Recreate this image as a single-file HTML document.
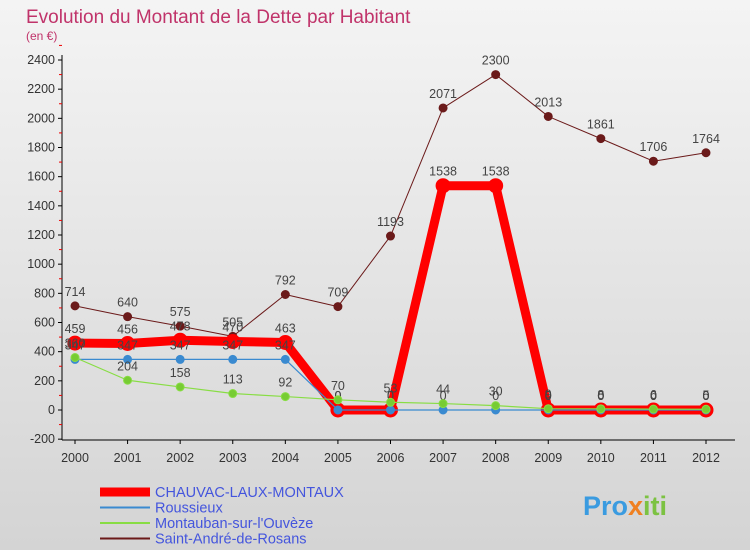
<!DOCTYPE html>
<html><head><meta charset="utf-8"><style>
body{margin:0;width:750px;height:550px;overflow:hidden;font-family:"Liberation Sans",sans-serif}
</style></head><body>
<svg id="c" width="750" height="550" xmlns="http://www.w3.org/2000/svg">
<defs><linearGradient id="bg" x1="0" y1="0" x2="0" y2="1"><stop offset="0" stop-color="#f4f4f4"/><stop offset="1" stop-color="#d4d4d4"/></linearGradient></defs>
<rect width="750" height="550" fill="url(#bg)"/>
<text x="26" y="23" font-size="19" fill="#c0336a">Evolution du Montant de la Dette par Habitant</text>
<text x="26" y="40" font-size="12" fill="#c0336a">(en €)</text>
<g id="axes"></g><g id="series"></g><g id="legend"></g>
<text x="583" y="515" font-size="27" font-weight="bold" fill="#3a9be0">Pro<tspan fill="#f08020">x</tspan><tspan fill="#7cc242">iti</tspan></text>
</svg>
<script>
const years=[2000,2001,2002,2003,2004,2005,2006,2007,2008,2009,2010,2011,2012];
const yTicks=[-200,0,200,400,600,800,1000,1200,1400,1600,1800,2000,2200,2400];
const chauvac=[459,456,478,470,463,0,0,1538,1538,0,0,0,0];
const roussieux=[347,347,347,347,347,0,0,0,0,0,0,0,0];
const montauban=[360,204,158,113,92,70,53,44,30,9,8,6,5];
const standre=[714,640,575,505,792,709,1193,2071,2300,2013,1861,1706,1764];
const names=["CHAUVAC-LAUX-MONTAUX","Roussieux","Montauban-sur-l'Ouvèze","Saint-André-de-Rosans"];
const NS="http://www.w3.org/2000/svg";
const X=i=>75+i*(706-75)/12, Y=v=>410-v*(410-60)/2400;
function mk(t,a,p){const e=document.createElementNS(NS,t);for(const k in a)e.setAttribute(k,a[k]);p.appendChild(e);return e;}
const ax=document.getElementById('axes');
const yl=mk('line',{x1:62,y1:55,x2:62,y2:440,stroke:'#000'},ax);


const xl=mk('line',{x1:62,y1:440,x2:735,y2:440,stroke:'#000'},ax);


yTicks.forEach(v=>{
 mk('line',{x1:58,y1:Y(v),x2:62,y2:Y(v),stroke:'#000'},ax);
 mk('line',{x1:59,y1:Y(v+100),x2:62,y2:Y(v+100),stroke:'#e00'},ax);
 const t=mk('text',{x:55,y:Y(v)+4,'font-size':12.5,'text-anchor':'end',fill:'#333'},ax);t.textContent=v;
 
 
});
years.forEach((y,i)=>{
 mk('line',{x1:X(i),y1:440,x2:X(i),y2:444,stroke:'#000'},ax);
 const t=mk('text',{x:X(i),y:462,'font-size':12.5,'text-anchor':'middle',fill:'#333'},ax);t.textContent=y;
 
 
});
const sg=document.getElementById('series');
function series(d,col,w,r,fill,name){
 const g=mk('g',{},sg);
 
 
 mk('polyline',{points:d.map((v,i)=>X(i)+','+Y(v)).join(' '),fill:'none',stroke:col,'stroke-width':w,'stroke-linejoin':'round'},g);
 d.forEach((v,i)=>{
  const c=mk('circle',{cx:X(i),cy:Y(v),r:r,fill:fill,stroke:col,'stroke-width':1},g);
  
  
  const t=mk('text',{x:X(i),y:Y(v)-10,'font-size':12.5,'text-anchor':'middle',fill:'#444'},g);t.textContent=v;
 });
}
series(standre,'#6b1a1a',1,4,'#6b1a1a','series-saint-andre');
series(chauvac,'#ff0000',9,7,'#ff0000','series-chauvac');
series(roussieux,'#3a8ad0',1.2,4,'#3a8ad0','series-roussieux');
series(montauban,'#88dd44',1.2,4,'#77cc33','series-montauban');
const lg=document.getElementById('legend');
const lc=['#ff0000','#3a8ad0','#88dd44','#6b1a1a'],lw=[9,2,2,2];
names.forEach((n,i)=>{
 const y=492+i*15.5;
 const l=mk('line',{x1:100,y1:y,x2:150,y2:y,stroke:lc[i],'stroke-width':lw[i]},lg);
 
 
 const t=mk('text',{x:155,y:y+5,'font-size':14.5,fill:'#4455dd'},lg);t.textContent=n;
 
 
});
</script>
</body></html>
